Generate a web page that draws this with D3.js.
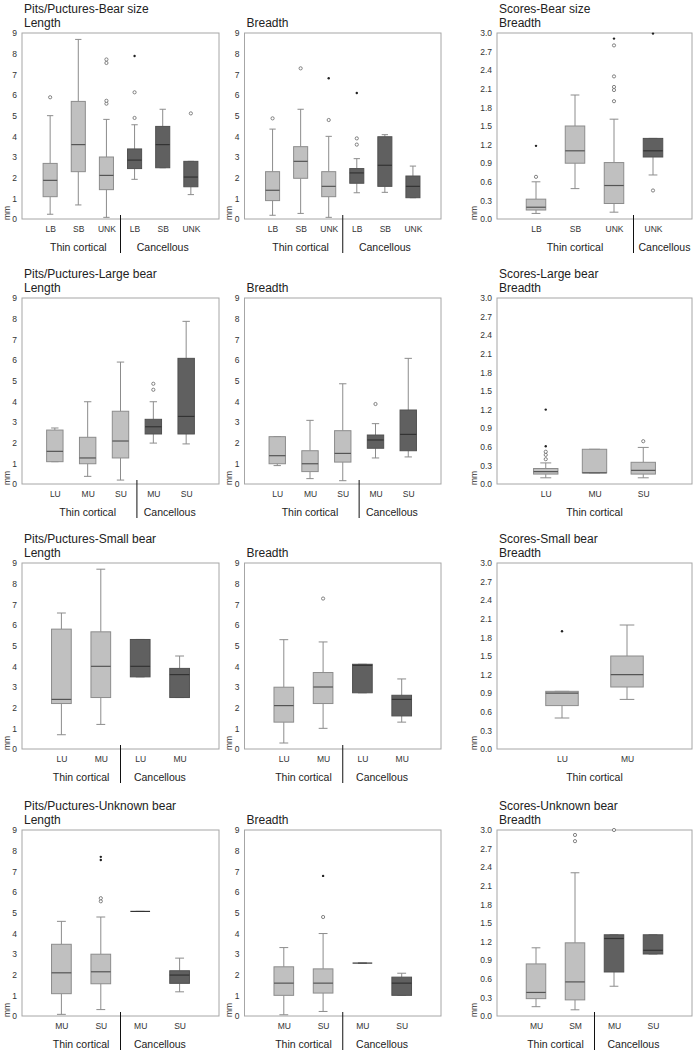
<!DOCTYPE html>
<html>
<head>
<meta charset="utf-8">
<script src="https://cdn.jsdelivr.net/npm/d3@7"></script>
<style>
body { margin: 0; background: #fff; }
text { font-family: "Liberation Sans", Arial, sans-serif; }
</style>
</head>
<body>
<svg id="chart" width="699" height="1054"></svg>
<script>
// row names and category labels
var rowNames = ["Bear size", "Large bear", "Small bear", "Unknown bear"];
var pitTicks = [0, 1, 2, 3, 4, 5, 6, 7, 8, 9];
var scoreTicks = [0, 0.3, 0.6, 0.9, 1.2, 1.5, 1.8, 2.1, 2.4, 2.7, 3.0];

var bearSizeCats = ["LB", "SB", "UNK", "LB", "SB", "UNK"];
var bearSizeScoreCats = ["LB", "SB", "UNK", "UNK"];
var largeBearCats = ["LU", "MU", "SU", "MU", "SU"];
var largeBearScoreCats = ["LU", "MU", "SU"];
var smallBearCats = ["LU", "MU", "LU", "MU"];
var smallBearScoreCats = ["LU", "MU"];
var unknownBearCats = ["MU", "SU", "MU", "SU"];
var unknownBearScoreCats = ["MU", "SM", "MU", "SU"];

// box stats: [low whisker, Q1, median, Q3, high whisker]
var bearSizeLength = [[0.23,1.08,1.87,2.69,5.0],[0.68,2.29,3.6,5.69,8.69],[0.08,1.42,2.11,3.0,4.82],
  [1.92,2.44,2.85,3.39,4.56],[2.48,2.48,3.6,4.48,5.31],[1.18,1.56,2.03,2.79,2.79]];
var bearSizeBreadth = [[0.18,0.89,1.39,2.29,4.35],[0.27,1.97,2.79,3.5,5.31],[0.08,1.08,1.58,2.29,4.0],
  [1.27,1.73,2.23,2.44,2.92],[1.29,1.58,2.6,3.98,4.08],[1.03,1.03,1.58,2.08,2.56]];
var bearSizeScore = [[0.09,0.145,0.19,0.32,0.6],[0.49,0.9,1.1,1.5,2.0],[0.11,0.25,0.54,0.91,1.61],[0.71,1.0,1.1,1.3,1.3]];

var largeBearLength = [[1.08,1.08,1.58,2.61,2.71],[0.37,0.98,1.26,2.26,3.98],[0.19,1.26,2.08,3.52,5.9],
  [1.98,2.42,2.77,3.13,3.98],[1.94,2.42,3.27,6.08,7.87]];
var largeBearBreadth = [[0.89,0.98,1.37,2.29,2.29],[0.26,0.6,0.98,1.61,3.08],[0.16,1.06,1.48,2.58,4.85],
  [1.26,1.73,2.13,2.37,2.92],[1.31,1.61,2.4,3.58,6.08]];
var largeBearScore = [[0.1,0.16,0.2,0.25,0.34],[0.18,0.18,0.18,0.56,0.56],[0.1,0.16,0.22,0.35,0.59]];

var smallBearLength = [[0.69,2.2,2.4,5.8,6.58],[1.19,2.49,4.0,5.67,8.7],[3.49,3.49,4.0,5.3,5.3],[2.49,2.49,3.6,3.9,4.5]];
var smallBearBreadth = [[0.29,1.3,2.1,2.99,5.29],[1.0,2.2,3.0,3.7,5.18],[2.72,2.72,4.05,4.1,4.1],[1.3,1.6,2.4,2.6,3.39]];
var smallBearScore = [[0.5,0.7,0.9,0.93,0.93],[0.8,1.0,1.2,1.5,2.0]];

var unknownBearLength = [[0.08,1.08,2.09,3.47,4.58],[0.31,1.56,2.14,2.99,4.79],[5.06,5.06,5.06,5.06,5.06],[1.17,1.58,1.98,2.19,2.8]];
var unknownBearBreadth = [[0.06,1.0,1.59,2.38,3.31],[0.22,1.11,1.59,2.28,3.99],[2.56,2.56,2.56,2.56,2.56],[1.0,1.0,1.59,1.88,2.07]];
var unknownBearScore = [[0.15,0.28,0.38,0.84,1.1],[0.1,0.26,0.55,1.18,2.31],[0.48,0.71,1.25,1.31,1.31],[1.0,1.0,1.06,1.31,1.31]];

// outliers: [category index, value, "o" circle / "*" extreme]
var bearSizeLengthOut = [[0,5.89,"o"],[2,5.58,"o"],[2,5.72,"o"],[2,7.55,"o"],[2,7.72,"o"],[3,4.89,"o"],[3,6.13,"o"],[3,7.89,"*"],[5,5.11,"o"]];
var bearSizeBreadthOut = [[0,4.87,"o"],[1,7.29,"o"],[2,4.79,"o"],[2,6.81,"*"],[3,3.6,"o"],[3,3.9,"o"],[3,6.1,"*"]];
var bearSizeScoreOut = [[0,0.68,"o"],[0,1.18,"*"],[2,1.9,"o"],[2,2.08,"o"],[2,2.13,"o"],[2,2.3,"o"],[2,2.8,"o"],[2,2.91,"*"],[3,0.46,"o"],[3,2.99,"*"]];
var largeBearLengthOut = [[3,4.56,"o"],[3,4.85,"o"]];
var largeBearBreadthOut = [[3,3.87,"o"]];
var largeBearScoreOut = [[0,0.4,"o"],[0,0.47,"o"],[0,0.52,"o"],[0,0.61,"*"],[0,1.2,"*"],[2,0.69,"o"]];
var smallBearLengthOut = [];
var smallBearBreadthOut = [[1,7.28,"o"]];
var smallBearScoreOut = [[0,1.9,"*"]];
var unknownBearLengthOut = [[1,5.55,"o"],[1,5.7,"o"],[1,7.55,"*"],[1,7.7,"*"]];
var unknownBearBreadthOut = [[1,4.79,"o"],[1,6.78,"*"]];
var unknownBearScoreOut = [[1,2.82,"o"],[1,2.92,"o"],[2,3.0,"o"]];

// layout
var colLeft = [22, 244.5, 497];
var colRight = [219, 441, 692];
var rowTop = [33, 298, 563, 830];
var plotH = 186;

var svg = d3.select("#chart");

var panels = [
  {row:0, col:0, cats:bearSizeCats, thin:3, stats:bearSizeLength, out:bearSizeLengthOut},
  {row:0, col:1, cats:bearSizeCats, thin:3, stats:bearSizeBreadth, out:bearSizeBreadthOut},
  {row:0, col:2, cats:bearSizeScoreCats, thin:3, stats:bearSizeScore, out:bearSizeScoreOut},
  {row:1, col:0, cats:largeBearCats, thin:3, stats:largeBearLength, out:largeBearLengthOut},
  {row:1, col:1, cats:largeBearCats, thin:3, stats:largeBearBreadth, out:largeBearBreadthOut},
  {row:1, col:2, cats:largeBearScoreCats, thin:3, stats:largeBearScore, out:largeBearScoreOut},
  {row:2, col:0, cats:smallBearCats, thin:2, stats:smallBearLength, out:smallBearLengthOut},
  {row:2, col:1, cats:smallBearCats, thin:2, stats:smallBearBreadth, out:smallBearBreadthOut},
  {row:2, col:2, cats:smallBearScoreCats, thin:2, stats:smallBearScore, out:smallBearScoreOut},
  {row:3, col:0, cats:unknownBearCats, thin:2, stats:unknownBearLength, out:unknownBearLengthOut},
  {row:3, col:1, cats:unknownBearCats, thin:2, stats:unknownBearBreadth, out:unknownBearBreadthOut},
  {row:3, col:2, cats:unknownBearScoreCats, thin:2, stats:unknownBearScore, out:unknownBearScoreOut}
];

panels.forEach(drawPanel);

function drawPanel(p) {
  var left = colLeft[p.col], right = colRight[p.col];
  var top = rowTop[p.row], bottom = top + plotH;
  var isScore = p.col == 2;
  var g = svg.append("g");

  var x = d3.scalePoint()
    .domain(d3.range(p.cats.length))
    .range([left, right])
    .padding(1);
  var y = d3.scaleLinear()
    .domain([0, isScore ? 3 : 9])
    .range([bottom, top]);
  var bw = x.step() * 0.5;
  var cap = bw * 0.45;

  // titles
  if (p.col == 0) {
    g.append("text").attr("x", left + 2).attr("y", top - 20)
      .attr("font-size", 12).attr("fill", "#222")
      .text("Pits/Puctures-" + rowNames[p.row]);
  }
  if (p.col == 2) {
    g.append("text").attr("x", left + 2).attr("y", top - 20)
      .attr("font-size", 12).attr("fill", "#222")
      .text("Scores-" + rowNames[p.row]);
  }
  g.append("text").attr("x", left + 2).attr("y", top - 6)
    .attr("font-size", 12).attr("fill", "#222")
    .text(p.col == 0 ? "Length" : "Breadth");

  // frame
  g.append("rect")
    .attr("x", left).attr("y", top)
    .attr("width", right - left).attr("height", plotH)
    .attr("fill", "none").attr("stroke", "#a6a6a6");

  // y axis
  var ya = g.append("g")
    .attr("transform", "translate(" + left + ",0)")
    .call(d3.axisLeft(y)
      .tickValues(isScore ? scoreTicks : pitTicks)
      .tickFormat(isScore ? d3.format(".1f") : d3.format("d"))
      .tickSize(0).tickPadding(5));
  ya.select(".domain").remove();
  ya.attr("font-size", 8.5).attr("font-family", null).style("color", "#333");

  g.append("text")
    .attr("transform", "translate(" + (left - (isScore ? 20 : 12.5)) + "," + (bottom + 1) + ") rotate(-90)")
    .attr("font-size", 8.5).attr("fill", "#333")
    .text("mm");

  // x axis labels
  var xa = g.append("g")
    .attr("transform", "translate(0," + bottom + ")")
    .call(d3.axisBottom(x)
      .tickFormat(function(i) { return p.cats[i]; })
      .tickSize(0).tickPadding(7));
  xa.select(".domain").remove();
  xa.attr("font-size", 8.5).attr("font-family", null).style("color", "#333");

  // group labels and divider
  var thinIdx = d3.range(p.thin);
  var cancIdx = d3.range(p.thin, p.cats.length);
  g.append("text")
    .attr("x", d3.mean(thinIdx, function(i) { return x(i); }))
    .attr("y", bottom + 32)
    .attr("text-anchor", "middle").attr("font-size", 10.5).attr("fill", "#222")
    .text("Thin cortical");
  if (cancIdx.length > 0) {
    var dx = (x(p.thin - 1) + x(p.thin)) / 2;
    var ct = g.append("text")
      .attr("x", d3.mean(cancIdx, function(i) { return x(i); }))
      .attr("y", bottom + 32)
      .attr("text-anchor", "middle").attr("font-size", 10.5).attr("fill", "#222")
      .text("Cancellous");
    // keep the label to the right of the divider
    var half = ct.node().getComputedTextLength() / 2;
    if (+ct.attr("x") - half < dx + 5) ct.attr("x", dx + 5 + half);
    g.append("line")
      .attr("x1", dx).attr("x2", dx)
      .attr("y1", bottom - 4).attr("y2", bottom + 34)
      .attr("stroke", "#111").attr("stroke-width", 1);
  }

  // boxes
  p.stats.forEach(function(s, i) {
    var dark = i >= p.thin;
    var cx = x(i);
    var wc = "#8c8c8c";
    var b = g.append("g");
    b.append("line").attr("x1", cx).attr("x2", cx).attr("y1", y(s[0])).attr("y2", y(s[1])).attr("stroke", wc);
    b.append("line").attr("x1", cx).attr("x2", cx).attr("y1", y(s[3])).attr("y2", y(s[4])).attr("stroke", wc);
    b.append("line").attr("x1", cx - cap / 2).attr("x2", cx + cap / 2).attr("y1", y(s[0])).attr("y2", y(s[0])).attr("stroke", wc);
    b.append("line").attr("x1", cx - cap / 2).attr("x2", cx + cap / 2).attr("y1", y(s[4])).attr("y2", y(s[4])).attr("stroke", wc);
    b.append("rect")
      .attr("x", cx - bw / 2).attr("y", y(s[3]))
      .attr("width", bw).attr("height", y(s[1]) - y(s[3]))
      .attr("fill", dark ? "#606060" : "#c0c0c0")
      .attr("stroke", dark ? "#505050" : "#8c8c8c");
    b.append("line")
      .attr("x1", cx - bw / 2).attr("x2", cx + bw / 2)
      .attr("y1", y(s[2])).attr("y2", y(s[2]))
      .attr("stroke", dark ? "#333" : "#555").attr("stroke-width", 1.2);
  });

  // outliers
  g.selectAll(".out")
    .data(p.out)
    .join("circle")
    .attr("cx", function(d) { return x(d[0]); })
    .attr("cy", function(d) { return y(d[1]); })
    .attr("r", function(d) { return d[2] == "o" ? 1.6 : 1.2; })
    .attr("fill", function(d) { return d[2] == "o" ? "#fff" : "#222"; })
    .attr("stroke", function(d) { return d[2] == "o" ? "#666" : "none"; })
    .attr("stroke-width", 0.8);
}
</script>
</body>
</html>
